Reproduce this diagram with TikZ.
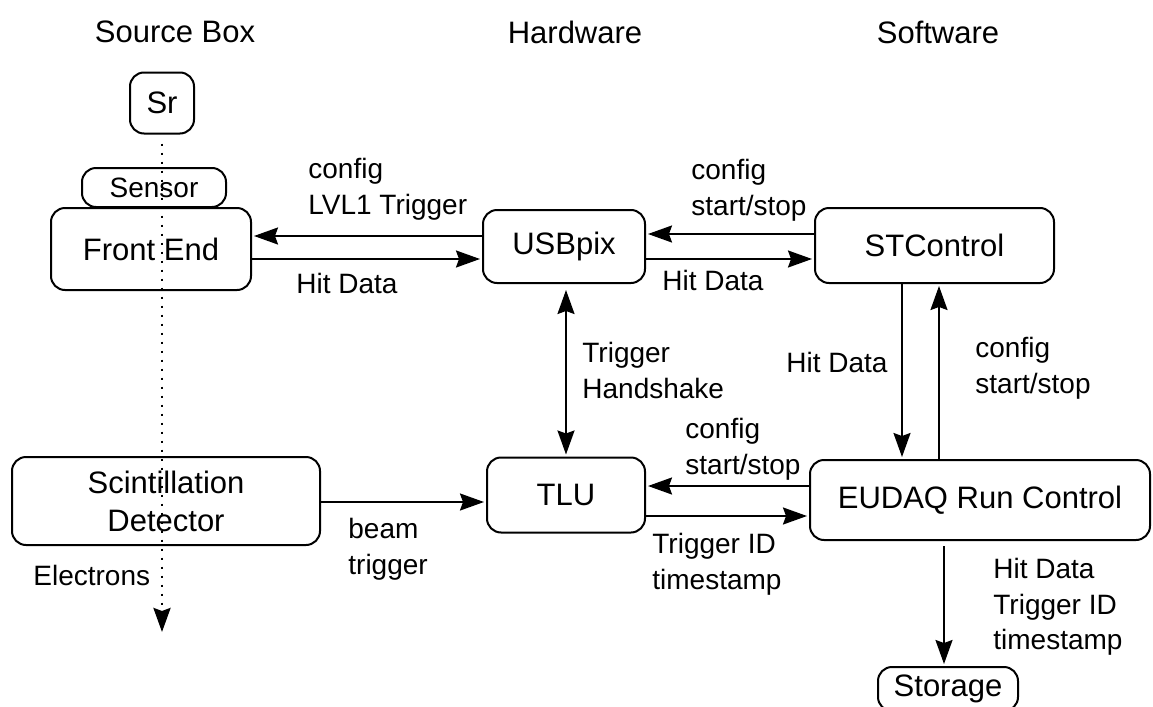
\documentclass[tikz,border=0pt]{standalone}
\usepackage{fontspec}
\setmainfont{Liberation Sans}
\usetikzlibrary{arrows.meta,positioning}
\def\boxfont{\fontsize{15.5}{19}\selectfont}
\def\lblfont{\fontsize{14}{17.75}\selectfont}
\def\tip{Stealth[length=12pt,width=8.5pt,inset=1.5pt]}
\tikzstyle{box} = [draw,line width=1pt,rectangle,rounded corners=7pt,inner sep=0,font=\boxfont,align=center]
\tikzstyle{head} = [inner sep=0,font=\boxfont]
\tikzstyle{lbl} = [inner sep=0,anchor=north west,align=left,font=\lblfont]
\tikzstyle{link} = [line width=1pt,-{\tip},shorten >=1pt]
\tikzstyle{beam} = [line width=1.4pt,dash pattern=on 1.4pt off 3.1pt,-{\tip}]

\begin{document}
\begin{tikzpicture}[x=0.5pt,y=-0.5pt]
      \useasboundingbox (0,0) rectangle (1153,707);
      % column headings
      \node[head] (hsrc) at (175,32) {Source Box};
      \node[head] (hhw) at (575,32) {Hardware};
      \node[head] (hsw) at (938,32) {Software};
      % blocks
      \node[box,minimum width=32pt,minimum height=30.5pt] (sr) at (162,103) {Sr};
      \node[box,font=\lblfont,minimum width=72pt,minimum height=19.5pt] (sens) at (154,187.5) {Sensor};
      \node[box,minimum width=100pt,minimum height=41pt] (fe) at (151,249) {Front End};
      \node[box,minimum width=81pt,minimum height=36.5pt] (usb) at (564,246.5) {USBpix};
      \node[box,minimum width=119.5pt,minimum height=37.5pt] (stc) at (934.5,245.5) {STControl};
      \node[box,minimum width=154pt,minimum height=44pt] (scint) at (166,501) {Scintillation\\Detector};
      \node[box,minimum width=79pt,minimum height=37.5pt] (tlu) at (566,495) {TLU};
      \node[box,minimum width=170pt,minimum height=40pt] (eudaq) at (980,500) {EUDAQ Run Control};
      \node[box,minimum width=70pt,minimum height=22pt] (stor) at (948,689) {Storage};
      % electrons through the source box
      \coordinate (eend) at (161,632);
      \draw[beam,shorten <=4.5pt] (sr.south) -- (sr.south |- eend);
      \node[lbl] (lel) at (33,565) {Electrons};
      % front end <-> usbpix
      \draw[link] ([yshift=5.25pt]usb.west) -- ([yshift=5.25pt]usb.west -| fe.east);
      \draw[link] ([yshift=-6.25pt]usb.west -| fe.east) -- ([yshift=-6.25pt]usb.west);
      \node[lbl] (lcfg1) at (308,158) {config\\LVL1 Trigger};
      \node[lbl] (lhit1) at (296,273) {Hit Data};
      % usbpix <-> stcontrol
      \draw[link] ([yshift=6.25pt]usb.east -| stc.west) -- ([yshift=6.25pt]usb.east);
      \draw[link] ([yshift=-6.25pt]usb.east) -- ([yshift=-6.25pt]usb.east -| stc.west);
      \node[lbl] (lcfg2) at (691,159) {config\\start/stop};
      \node[lbl] (lhit2) at (662,270) {Hit Data};
      % usbpix <-> tlu
      \draw[link,{\tip}-{\tip},shorten <=3pt] (tlu.north |- usb.south) -- (tlu.north);
      \node[lbl] (lhs) at (582,342) {Trigger\\Handshake};
      % stcontrol <-> eudaq
      \draw[link] ([xshift=-16.25pt]stc.south) -- ([xshift=-16.25pt]stc.south |- eudaq.north);
      \draw[link] ([xshift=2.25pt]stc.south |- eudaq.north) -- ([xshift=2.25pt]stc.south);
      \node[lbl] (lhit3) at (786,352) {Hit Data};
      \node[lbl] (lcfg3) at (975,337) {config\\start/stop};
      % tlu <-> eudaq
      \draw[link] ([yshift=4.5pt]tlu.east -| eudaq.west) -- ([yshift=4.5pt]tlu.east);
      \draw[link] ([yshift=-10.5pt]tlu.east) -- ([yshift=-10.5pt]tlu.east -| eudaq.west);
      \node[lbl] (lcfg4) at (685,418) {config\\start/stop};
      \node[lbl] (ltid) at (652,533) {Trigger ID\\timestamp};
      % scintillator -> tlu
      \draw[link] ([yshift=-3.5pt]tlu.west -| scint.east) -- ([yshift=-3.5pt]tlu.west);
      \node[lbl] (lbeam) at (348,518) {beam\\trigger};
      % eudaq -> storage
      \draw[link,shorten <=2.5pt] ([xshift=-2pt]stor.north |- eudaq.south) -- ([xshift=-2pt]stor.north);
      \node[lbl] (lstor) at (993,558) {Hit Data\\Trigger ID\\timestamp};
\end{tikzpicture}
\end{document}
